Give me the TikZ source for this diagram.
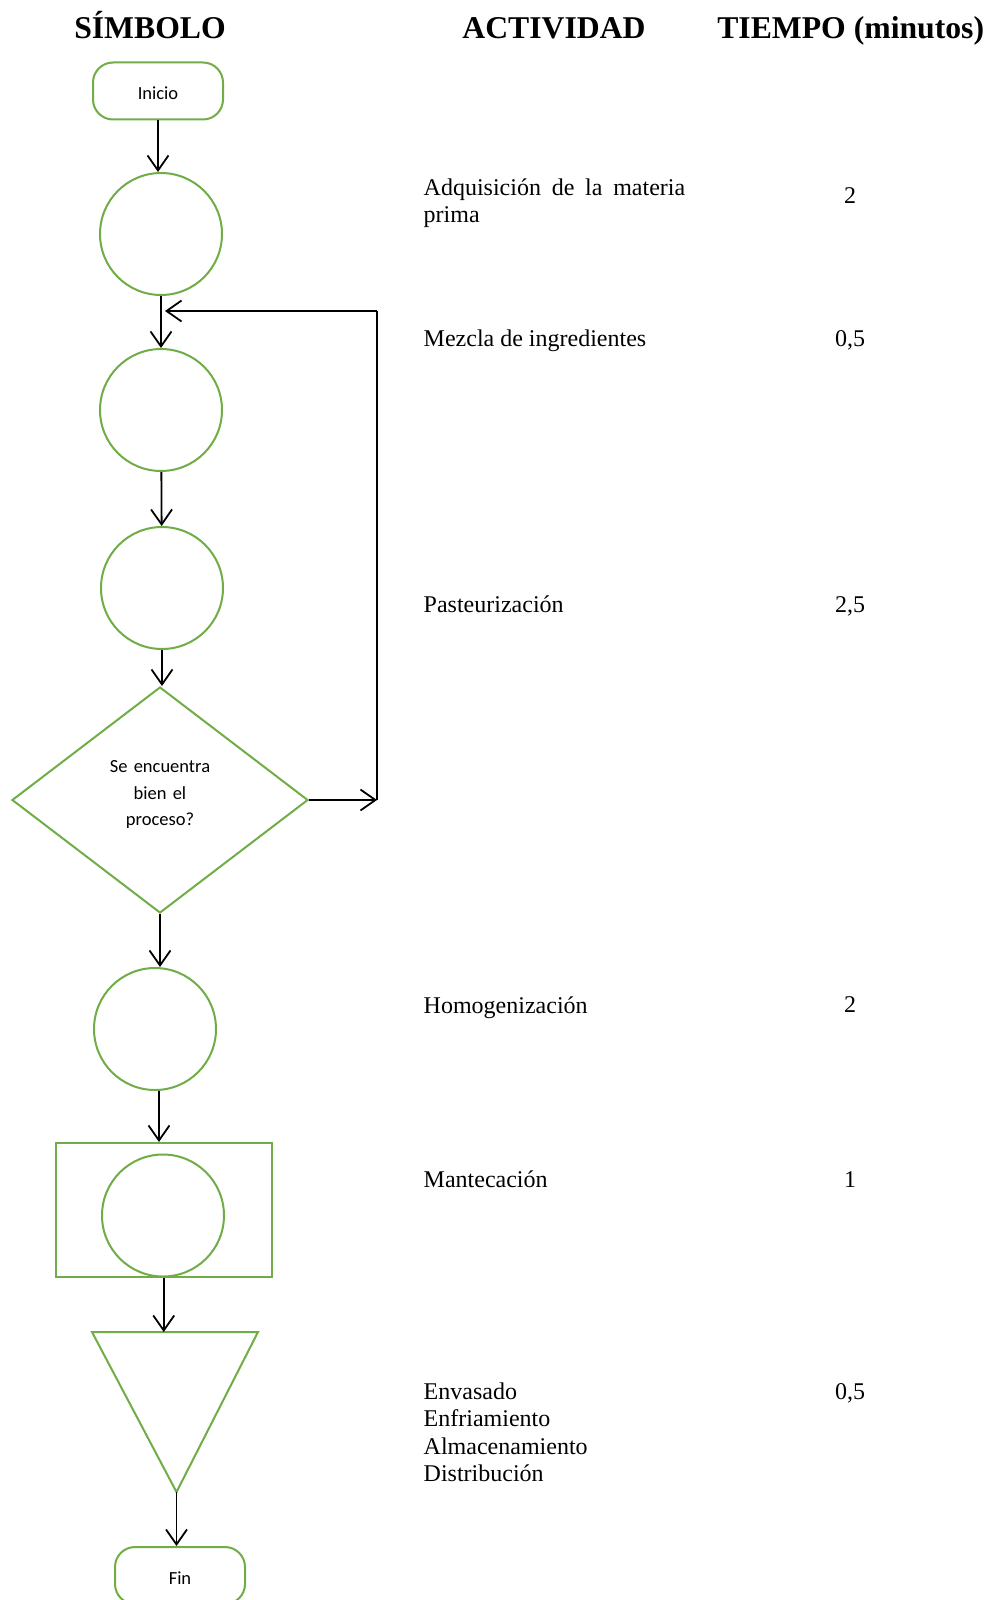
\documentclass[tikz,border=0pt]{standalone}
\usepackage{fontspec}
\setmainfont{Liberation Serif}
\newfontfamily\carlito{Carlito}
\usetikzlibrary{arrows.meta,shapes.geometric}
\definecolor{verdeproc}{HTML}{70AD47}

\begin{document}
\begin{tikzpicture}[x=1pt,y=-1pt,
  simbolo/.style={draw=verdeproc,line width=2pt,fill=white},
  circulo/.style={simbolo,circle,minimum size=122pt,inner sep=0pt},
  terminal/.style={simbolo,rounded corners=20pt,minimum width=130pt,minimum height=57pt,
    inner sep=0pt,text height=18pt,text depth=0pt,font=\carlito\fontsize{18.5}{22}\selectfont},
  flecha/.style={draw=black,line width=1.8pt,-{Straight Barb[length=15pt,width=21pt,line width=1.8pt]}},
  encabezado/.style={anchor=base,inner sep=0pt,font=\fontsize{31.7}{36}\selectfont\bfseries},
  actividad/.style={anchor=base west,inner sep=0pt,text width=261.5pt,align=justify,
    font=\fontsize{24}{27.5}\selectfont},
  tiempo/.style={anchor=base,inner sep=0pt,font=\fontsize{24}{27.5}\selectfont}]
\useasboundingbox (0,0) rectangle (991,1600);

% encabezados
\node[encabezado] (h-simbolo) at (150,38.5) {SÍMBOLO};
\node[encabezado] (h-actividad) at (554,38.5) {ACTIVIDAD};
\node[encabezado] (h-tiempo) at (850.7,38.5) {TIEMPO (minutos)};

% simbolos
\node[terminal] (inicio) at (158,91) {Inicio};
\node[circulo] (c1) at (161,234) {};
\node[circulo] (c2) at (161,410) {};
\node[circulo] (c3) at (162,588) {};
\node[simbolo,diamond,minimum width=296pt,minimum height=226pt,inner sep=0pt,
  text width=120pt,text depth=67pt,align=center,font=\carlito\fontsize{18.5}{26.5}\selectfont]
  (decision) at (160,800) {Se encuentra bien el proceso?};
\node[circulo] (c4) at (155,1029) {};
\node[simbolo,rectangle,minimum width=215.5pt,minimum height=134pt] (mant) at (163.75,1210) {};
\node[circulo] (c5) at (163,1215.5) {};
\draw[simbolo] (92,1332) coordinate (tri-izq) -- (258,1332) coordinate (tri-der)
  -- (176.5,1492) coordinate (tri-vert) -- cycle;
\node[terminal] (fin) at (180,1575.5) {Fin};

% retorno
\coordinate (retorno-a) at (377,800);
\coordinate (retorno-b) at (377,311);
\coordinate (retorno-c) at (165,311);

% flechas
\draw[flecha] (inicio.south) -- (inicio.south |- c1.north);
\draw[flecha] (c1) -- (c2);
\draw[flecha] (c2) -- (c3);
\draw[flecha] (c3.south) -- (c3.south |- decision.north);
\draw[flecha] (decision.south) -- (decision.south |- c4.north);
\draw[flecha] ([xshift=4pt]c4.south) -- ([xshift=4pt]c4.south |- mant.north);
\draw[flecha] (mant.south) -- (mant.south |- tri-izq);
\draw[flecha] (tri-vert) -- (tri-vert |- fin.north);
\draw[flecha] (decision.east) -- (retorno-a);
\draw[line width=1.1pt] (retorno-a) -- (retorno-b);
\draw[flecha] (retorno-b) -- (retorno-c);

% actividades y tiempos
\node[actividad] (a1) at (423.5,195) {Adquisición de la materia prima};
\node[tiempo] (t1) at (850,203) {2};
\node[actividad] (a2) at (423.5,346) {Mezcla de ingredientes};
\node[tiempo] (t2) at (850,346) {0,5};
\node[actividad] (a3) at (423.5,612) {Pasteurización};
\node[tiempo] (t3) at (850,612) {2,5};
\node[actividad] (a4) at (423.5,1013) {Homogenización};
\node[tiempo] (t4) at (850,1012) {2};
\node[actividad] (a5) at (423.5,1187) {Mantecación};
\node[tiempo] (t5) at (850,1187) {1};
\node[actividad,align=left] (a6) at (423.5,1399)
  {Envasado\\Enfriamiento\\Almacenamiento\\Distribución};
\node[tiempo] (t6) at (850,1399) {0,5};
\end{tikzpicture}
\end{document}
